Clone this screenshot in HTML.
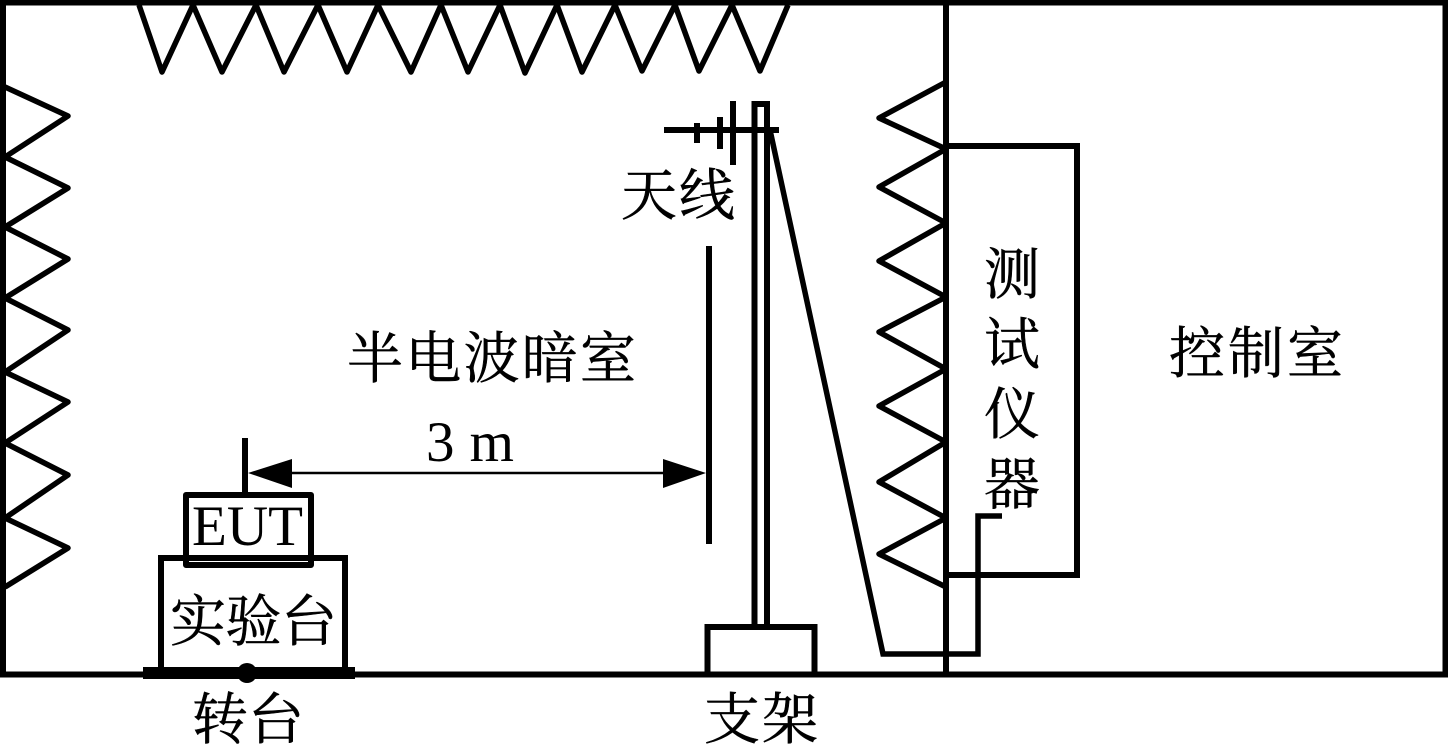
<!DOCTYPE html>
<html><head><meta charset="utf-8"><style>
html,body{margin:0;padding:0;background:#fff;width:1448px;height:745px;overflow:hidden}
svg{display:block}
.c{font-family:"Liberation Serif","Noto Serif CJK SC",serif;font-size:56px;fill:#000;stroke:#000;stroke-width:.5px}
.l{font-family:"Liberation Serif",serif;font-size:57px;fill:#000}
</style></head><body>
<svg width="1448" height="745" viewBox="0 0 1448 745" xmlns="http://www.w3.org/2000/svg">
<g fill="none" stroke="#000" stroke-width="5.5" stroke-linejoin="round">
<!-- outer frame -->
<path d="M3 2.500H1445.500V674.500H3Z" stroke-width="6" stroke-linejoin="miter"/>
<path d="M946 3V674" stroke-width="6"/>
<!-- absorbers -->
<path d="M139 5L162 72L193 5L222 72L256 5L284 72L318 5L347 72L378 5L411 72L441 5L468 72L500 5L525 73L557 5L582 72L615 5L642 71L675 5L699 71L732 5L760 71L788 5"/>
<path d="M5 87L68 116L5 157L68 188L5 227L68 259L5 298L68 330L5 372L68 402L5 443L68 475L5 518L68 548L5 587"/>
<path d="M946 82L879 118L946 149L879 187L946 223L879 261L946 297L879 332L946 369L879 406L946 442L879 482L946 518L879 554L946 587"/>
<!-- instrument box -->
<path d="M946 146H1077V575H946" stroke-width="6" stroke-linejoin="miter"/>
<!-- cable -->
<path d="M1002 516H978V654H883L770 130" stroke-linejoin="miter"/>
<!-- antenna -->
<path d="M664 130H779" stroke-width="6"/>
<path d="M697 123V143M720 117V149M733 101V165" stroke-width="6"/>
<path d="M754.500 625V104H767V625" stroke-width="6" stroke-linejoin="miter"/>
<!-- support -->
<path d="M707.500 674V627H814.500V674" stroke-width="6" stroke-linejoin="miter"/>
<!-- reference line -->
<path d="M709 246V544" stroke-width="6"/>
<!-- EUT -->
<path d="M245 438V495" stroke-width="6"/>
<rect x="186" y="495" width="125" height="70" stroke-width="6"/>
<!-- table -->
<path d="M161 674V558H345V674" stroke-width="6" stroke-linejoin="miter"/>
<!-- dimension -->
<path d="M290 473H665" stroke-width="2.500"/>
</g>
<path d="M248 473L292 459V488Z" fill="#000"/>
<path d="M706 473L663 459V488Z" fill="#000"/>
<rect x="143" y="667" width="212" height="12" fill="#000"/>
<circle cx="247" cy="673" r="10" fill="#000"/>
<!-- text -->
<text class="c" x="347" y="378" textLength="289" lengthAdjust="spacing">半电波暗室</text>
<text class="c" x="621" y="215" textLength="114" lengthAdjust="spacing">天线</text>
<text class="c" x="1169" y="373" textLength="174" lengthAdjust="spacing">控制室</text>
<text class="c" x="984" y="294">测</text>
<text class="c" x="984" y="364">试</text>
<text class="c" x="984" y="434">仪</text>
<text class="c" x="984" y="504">器</text>
<text class="c" x="170" y="641" textLength="167" lengthAdjust="spacing">实验台</text>
<text class="c" x="192" y="739" textLength="112" lengthAdjust="spacing">转台</text>
<text class="c" x="704" y="739" textLength="114" lengthAdjust="spacing">支架</text>
<text class="l" x="192" y="545" textLength="111" lengthAdjust="spacingAndGlyphs">EUT</text>
<text class="l" x="426" y="461" textLength="88" lengthAdjust="spacing">3 m</text>
</svg>
</body></html>
